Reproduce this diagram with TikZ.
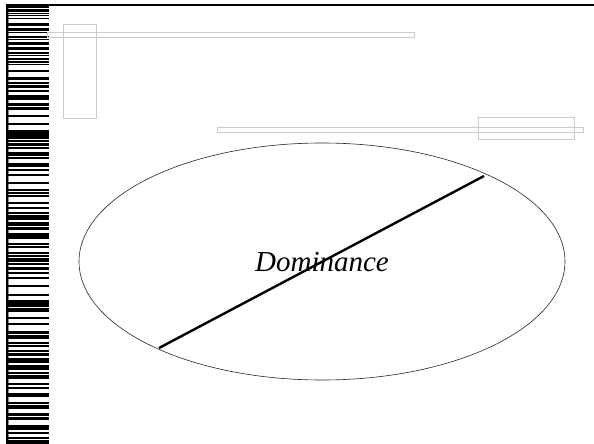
\documentclass[tikz,border=0pt]{standalone}
\usepackage{fontspec}
\setmainfont{Liberation Serif}
\usetikzlibrary{shapes.geometric}
\tikzset{
  graybox/.style={draw=black!20, line width=0.9pt},
  stripe/.style={fill=black},
  bigell/.style={draw=black!85, line width=0.6pt, ellipse, inner sep=0pt,
     minimum width=486pt, minimum height=237pt, font=\itshape\fontsize{29}{34}\selectfont}
}
\begin{document}
\begin{tikzpicture}[x=1pt,y=-1pt]
\useasboundingbox (0,0) rectangle (594,444);
% barcode strip
\fill (7,4) rectangle (594,5.6);
\fill (7,4) rectangle (49,8);
\fill (6,4) rectangle (8.2,444);
\draw[black!45, line width=0.7pt] (8.7,8) -- (8.7,444);
\foreach \y/\h in {9.5/1, 11/1, 13/1, 15/1, 18/1, 23/3, 28/1, 29.5/1, 32/1, 36/2, 39/1, 42/1, 43.5/1, 47/1, 48.5/1.5, 52/1.5, 55/1, 58/1.5, 61/2, 64/1, 70/1, 77/1, 78.5/1, 82/1, 85/2, 90/1, 95/2, 98/1, 103/2, 107/1, 108.5/1, 115/1, 123/1, 130/2, 133/1, 135/1, 137/1, 140/1, 143/2, 147/1, 152/1, 153.5/1.5, 157/1, 163/3, 169/1, 174/1, 182/1, 189/1, 192/1.5, 195/1, 202/1.5, 207/1, 212/1, 215/2, 218/1, 222/1, 224/1, 227/1, 228.5/1, 233/1, 235/1, 237/1.5, 243/1, 246/1.5, 252/1, 255/1, 258/1, 260/1.5, 263/1, 267/2, 272/1, 277/1, 285/1, 294/1, 300/2, 303/3, 308/1, 310/1, 317/1, 323/1, 331/2, 335/1, 337/1, 342/1.5, 345/1, 350/1, 353/2, 358/1, 360/2, 365/2, 368/1, 372/1, 375/3, 383/1, 387/1, 393/1, 395/1, 402/1.5, 405/1, 407/1.5, 413/2, 417/1, 418.5/1, 425/2, 428/1, 432/1, 437/1.5, 440/1, 442/1}
  \fill[stripe] (8,\y) rectangle (49,\y+\h+0.5);
% gray rectangles
\draw[graybox] (63.3,24.3) rectangle (96.7,118.3);
\draw[graybox] (47.3,32.3) rectangle (414,37.3);
\draw[graybox] (478.3,117.3) rectangle (574.3,139.3);
\draw[graybox] (217.3,127.3) rectangle (583.3,132.3);
% ellipse with label
\node[bigell] (dom) at (322,261.5) {};
\node[font=\itshape\fontsize{29}{34}\selectfont, inner sep=0pt] (lbl) at (322,262.5) {Dominance};
\coordinate (lo) at (159,348);
\coordinate (hi) at (484,176);
\draw[line width=2.4pt] (lo) -- (hi);
\end{tikzpicture}
\end{document}
